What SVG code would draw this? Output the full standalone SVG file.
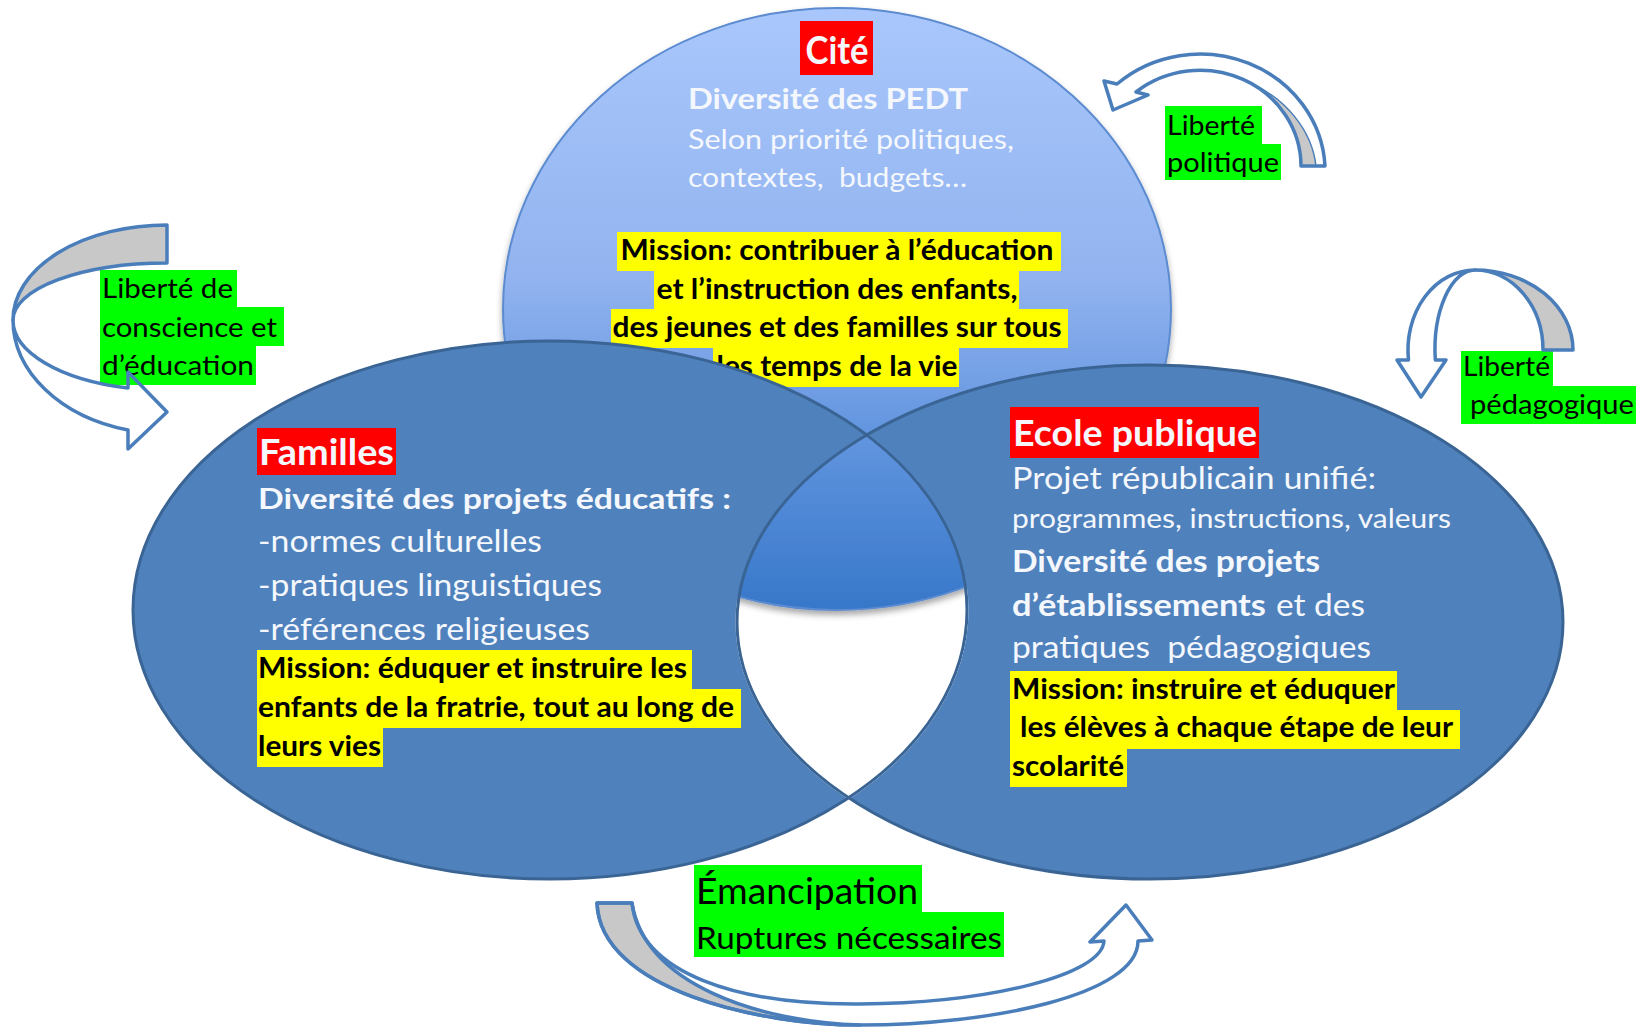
<svg xmlns="http://www.w3.org/2000/svg" width="1644" height="1029" viewBox="0 0 1644 1029">
<style>
text{font-family:Lato,"Open Sans","Liberation Sans",sans-serif}
.w{fill:#f4f7fc}
.k{fill:#000}
.b{font-weight:700}
.hl{fill:#ffff00}
.gr{fill:#00ff00}
.rd{fill:#ff0000}
.arr{stroke:#4a7ebb;stroke-width:3.5;stroke-linejoin:round}
.back{fill:#c8c8c8}
.front{fill:none}
.bub{fill:#4f81bd}
.bubs{fill:none;stroke:#3a6494;stroke-width:3}
</style>
<defs>
<linearGradient id="gc" x1="0" y1="0" x2="0" y2="1">
<stop offset="0" stop-color="#a9c7fc"/>
<stop offset="0.45" stop-color="#92b3ef"/>
<stop offset="0.7" stop-color="#6396e0"/>
<stop offset="1" stop-color="#3777c9"/>
</linearGradient>
<filter id="sh" x="-10%" y="-10%" width="120%" height="125%">
<feDropShadow dx="0" dy="4" stdDeviation="3" flood-color="#000" flood-opacity="0.35"/>
</filter>
<mask id="cutE" maskUnits="userSpaceOnUse" x="0" y="0" width="1644" height="1029">
<rect width="1644" height="1029" fill="#fff"/>
<ellipse cx="1150" cy="622" rx="413" ry="257" fill="#000" stroke="#000" stroke-width="3"/>
</mask>
<mask id="cutF" maskUnits="userSpaceOnUse" x="0" y="0" width="1644" height="1029">
<rect width="1644" height="1029" fill="#fff"/>
<ellipse cx="550" cy="610" rx="417" ry="269" fill="#000" stroke="#000" stroke-width="3"/>
</mask>
</defs>

<g id="node-cite">
<ellipse cx="837" cy="309" rx="334" ry="301" fill="url(#gc)" stroke="#5b8bd0" stroke-width="2" filter="url(#sh)"/>
<rect class="rd" x="800" y="21" width="73" height="54"/>
<text class="w b" x="837" y="64" font-size="38" text-anchor="middle" textLength="63" lengthAdjust="spacingAndGlyphs">Cité</text>
<text class="w b" x="688" y="109" font-size="28" textLength="280" lengthAdjust="spacingAndGlyphs">Diversité des PEDT</text>
<text class="w" x="688" y="149" font-size="27" textLength="326" lengthAdjust="spacingAndGlyphs">Selon priorité politiques,</text>
<text class="w" x="688" y="187" font-size="27" textLength="279" lengthAdjust="spacingAndGlyphs" xml:space="preserve">contextes,  budgets…</text>
<rect class="hl" x="617" y="232" width="444" height="39"/>
<rect class="hl" x="654" y="271" width="365" height="38"/>
<rect class="hl" x="611" y="309" width="457" height="39"/>
<rect class="hl" x="713" y="348" width="246" height="39"/>
<text class="k b" x="837" y="260" font-size="28" text-anchor="middle" textLength="433" lengthAdjust="spacingAndGlyphs">Mission: contribuer à l’éducation</text>
<text class="k b" x="837" y="299" font-size="28" text-anchor="middle" textLength="361" lengthAdjust="spacingAndGlyphs">et l’instruction des enfants,</text>
<text class="k b" x="837" y="337" font-size="28" text-anchor="middle" textLength="449" lengthAdjust="spacingAndGlyphs">des jeunes et des familles sur tous</text>
<text class="k b" x="837" y="376" font-size="28" text-anchor="middle" textLength="241" lengthAdjust="spacingAndGlyphs">les temps de la vie</text>
</g>

<g id="node-familles">
<ellipse class="bub" cx="550" cy="610" rx="417" ry="269" mask="url(#cutE)"/>
<ellipse class="bubs" cx="550" cy="610" rx="417" ry="269"/>
<rect class="rd" x="257" y="428" width="139" height="47"/>
<text class="w b" x="259" y="465" font-size="36" textLength="135" lengthAdjust="spacingAndGlyphs">Familles</text>
<text class="w b" x="258" y="509" font-size="29" textLength="473" lengthAdjust="spacingAndGlyphs">Diversité des projets éducatifs :</text>
<text class="w" x="258" y="552" font-size="30" textLength="284" lengthAdjust="spacingAndGlyphs">-normes culturelles</text>
<text class="w" x="258" y="596" font-size="30" textLength="344" lengthAdjust="spacingAndGlyphs">-pratiques linguistiques</text>
<text class="w" x="258" y="640" font-size="30" textLength="332" lengthAdjust="spacingAndGlyphs">-références religieuses</text>
<rect class="hl" x="257" y="650" width="435" height="39"/>
<rect class="hl" x="257" y="689" width="484" height="39"/>
<rect class="hl" x="257" y="728" width="126" height="39"/>
<text class="k b" x="258" y="678" font-size="29" textLength="429" lengthAdjust="spacingAndGlyphs">Mission: éduquer et instruire les</text>
<text class="k b" x="258" y="717" font-size="29" textLength="476" lengthAdjust="spacingAndGlyphs">enfants de la fratrie, tout au long de</text>
<text class="k b" x="258" y="756" font-size="29" textLength="123" lengthAdjust="spacingAndGlyphs">leurs vies</text>
</g>

<g id="node-ecole">
<ellipse class="bub" cx="1150" cy="622" rx="413" ry="257" mask="url(#cutF)"/>
<ellipse class="bubs" cx="1150" cy="622" rx="413" ry="257"/>
<rect class="rd" x="1010" y="407" width="249" height="51"/>
<text class="w b" x="1013" y="446" font-size="37" textLength="244" lengthAdjust="spacingAndGlyphs">Ecole publique</text>
<text class="w" x="1012" y="489" font-size="30" textLength="364" lengthAdjust="spacingAndGlyphs">Projet républicain unifié:</text>
<text class="w" x="1012" y="528" font-size="27" textLength="439" lengthAdjust="spacingAndGlyphs">programmes, instructions, valeurs</text>
<text class="w b" x="1012" y="572" font-size="30" textLength="308" lengthAdjust="spacingAndGlyphs">Diversité des projets</text>
<text class="w b" x="1012" y="616" font-size="30" textLength="254" lengthAdjust="spacingAndGlyphs">d’établissements</text>
<text class="w" x="1276" y="616" font-size="30" textLength="89" lengthAdjust="spacingAndGlyphs">et des</text>
<text class="w" x="1012" y="658" font-size="30" textLength="359" lengthAdjust="spacingAndGlyphs" xml:space="preserve">pratiques  pédagogiques</text>
<rect class="hl" x="1010" y="671" width="387" height="39"/>
<rect class="hl" x="1010" y="710" width="450" height="39"/>
<rect class="hl" x="1010" y="749" width="117" height="38"/>
<text class="k b" x="1012" y="699" font-size="29" textLength="383" lengthAdjust="spacingAndGlyphs">Mission: instruire et éduquer</text>
<text class="k b" x="1020" y="737" font-size="29" textLength="433" lengthAdjust="spacingAndGlyphs">les élèves à chaque étape de leur</text>
<text class="k b" x="1012" y="776" font-size="29" textLength="112" lengthAdjust="spacingAndGlyphs">scolarité</text>
</g>

<g id="label-liberte-conscience">
<rect class="gr" x="100" y="270" width="137" height="37"/>
<rect class="gr" x="100" y="307" width="184" height="39"/>
<rect class="gr" x="100" y="346" width="156" height="39"/>
<text class="k" x="102" y="298" font-size="27" textLength="131" lengthAdjust="spacingAndGlyphs">Liberté de</text>
<text class="k" x="102" y="337" font-size="27" textLength="175" lengthAdjust="spacingAndGlyphs">conscience et</text>
<text class="k" x="102" y="375" font-size="27" textLength="152" lengthAdjust="spacingAndGlyphs">d’éducation</text>
</g>

<g id="label-liberte-politique">
<rect class="gr" x="1165" y="106" width="97" height="38"/>
<rect class="gr" x="1165" y="144" width="116" height="36"/>
<text class="k" x="1167" y="135" font-size="27" textLength="88" lengthAdjust="spacingAndGlyphs">Liberté</text>
<text class="k" x="1167" y="172" font-size="27" textLength="112" lengthAdjust="spacingAndGlyphs">politique</text>
</g>

<g id="label-liberte-pedagogique">
<rect class="gr" x="1461" y="351" width="92" height="35"/>
<rect class="gr" x="1461" y="386" width="175" height="38"/>
<text class="k" x="1463" y="376" font-size="27" textLength="87" lengthAdjust="spacingAndGlyphs">Liberté</text>
<text class="k" x="1470" y="414" font-size="27" textLength="164" lengthAdjust="spacingAndGlyphs">pédagogique</text>
</g>

<g id="label-emancipation">
<rect class="gr" x="694" y="865" width="228" height="47"/>
<rect class="gr" x="694" y="912" width="310" height="45"/>
<text class="k" x="696" y="904" font-size="36" textLength="222" lengthAdjust="spacingAndGlyphs">Émancipation</text>
<text class="k" x="696" y="949" font-size="31" textLength="306" lengthAdjust="spacingAndGlyphs">Ruptures nécessaires</text>
</g>

<g id="connectors">
<g id="arrow-conscience">
<path class="arr back" d="M167,225 A154,95 0 0 0 13,320 A154,57 0 0 1 167,263 Z"/>
<path class="arr front" d="M13,320 A154,114 0 0 0 128,430 L128,449 L167,412 L128,372 L128,388 A154,70 0 0 1 13,320 Z"/>
</g>
<g id="arrow-politique">
<path class="back" d="M1301,166 A101,96 0 0 0 1250,83 C1285,98 1312,130 1316,166 Z" stroke="#4a7ebb" stroke-width="1.5"/>
<path class="arr front" d="M1325,166 A125,118 0 0 0 1117,84 L1104,81 L1113,110 L1148,95 L1136,92 A101,96 0 0 1 1301,166 Z"/>
</g>
<g id="arrow-pedagogique">
<path class="arr back" d="M1475,270 A98,80 0 0 1 1573,350 L1543,350 A68,80 0 0 0 1475,270 Z"/>
<path class="arr front" d="M1475,270 A67,80 0 0 0 1408.5,360 L1397,360 L1421,397 L1446,360 L1435.3,360 A40,80 0 0 1 1475,270 Z"/>
</g>
<g id="arrow-emancipation">
<path class="arr back" d="M597,903 C600,990 760,1025 860,1025 C760,1022 645,985 632,903 Z"/>
<path class="arr front" d="M597,903 C600,990 760,1025 860,1025 C990,1025 1138,995 1138,941 L1152,940 L1126,905 L1090,942 L1104,941 C1102,975 990,1003 860,1004 C740,1005 640,975 632,903 Z"/>
</g>
</g>
</svg>
